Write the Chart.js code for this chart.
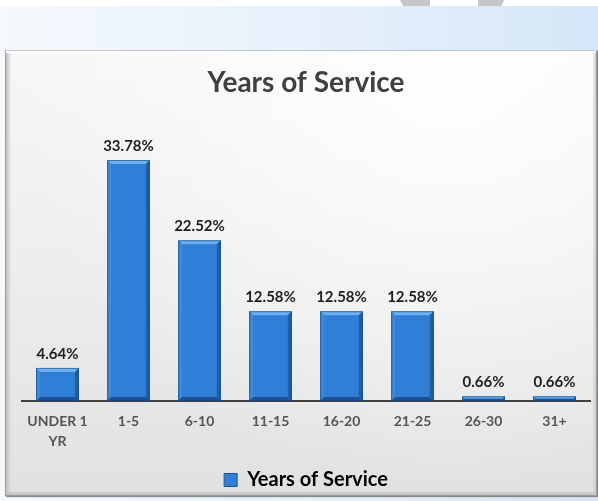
<!DOCTYPE html>
<html>
<head>
<meta charset="utf-8">
<script src="https://cdn.jsdelivr.net/npm/chart.js@4"></script>
<style>
  html, body { margin: 0; padding: 0; }
  body { width: 598px; height: 501px; position: relative; overflow: hidden; background: #ffffff; }
  .band { position: absolute; left: 0; top: 6px; width: 598px; height: 495px;
          background: linear-gradient(to right, #f5f9fe 0%, #e6f0fb 55%, #d5e6f8 100%); }
  .mark { position: absolute; top: 0; height: 6px; background: #c6c6c6; }
  .frame { position: absolute; left: 5px; top: 50px; width: 590px; height: 444px;
           border: 1px solid #9a9a9a; border-top-color: #c8c8c8;
           box-shadow: inset 0 2px 0 #ffffff, inset 4px 0 3px -1px #c4c4c4, inset -3px 0 3px -1px #cfcfcf,
                       inset 0 -3px 3px -1px #b8b8b8, 1px 1px 1px #8a8a8a;
           background:
             radial-gradient(ellipse at 75% 0%, rgba(255,255,255,0.95) 0%, rgba(255,255,255,0) 70%),
             linear-gradient(to bottom, #f7f7f7 0%, #ececec 55%, #e1e1e1 100%); }
  canvas { position: absolute; left: 0; top: 0; }
</style>
</head>
<body>
<div class="band"></div>
<div class="mark" style="left:400px;width:30px;clip-path:polygon(0 0,100% 0,100% 100%,10% 100%);"></div>
<div class="mark" style="left:478px;width:26px;clip-path:polygon(0 0,100% 0,90% 100%,0 100%);"></div>
<div class="frame"></div>
<canvas id="c" width="598" height="501"></canvas>
<script>
// Share of staff by length of service (percent)
const categories = [['UNDER 1', 'YR'], '1-5', '6-10', '11-15', '16-20', '21-25', '26-30', '31+'];
const seriesName = 'Years of Service';
const shares = [4.64, 33.78, 22.52, 12.58, 12.58, 12.58, 0.66, 0.66];

const FONT = "Lato, 'Open Sans', sans-serif";
const FACE = '#2f7fd6';

// Bevelled edges on each bar to give the raised look
const bevel = {
  id: 'bevel',
  afterDatasetsDraw(chart) {
    const ctx = chart.ctx;
    chart.getDatasetMeta(0).data.forEach(el => {
      const p = el.getProps(['x', 'y', 'base', 'width'], true);
      const l = p.x - p.width / 2, r = p.x + p.width / 2, t = p.y, b = p.base;
      const h = b - t;
      const e = Math.min(4, h / 2);
      const poly = (pts, c) => {
        ctx.beginPath();
        ctx.moveTo(pts[0][0], pts[0][1]);
        for (let i = 1; i < pts.length; i++) ctx.lineTo(pts[i][0], pts[i][1]);
        ctx.closePath();
        ctx.fillStyle = c;
        ctx.fill();
      };
      ctx.save();
      poly([[l, t], [r, t], [r - e, t + e], [l + e, t + e]], '#6cb0f2');
      poly([[l, t], [l + e, t + e], [l + e, b - e], [l, b]], '#3d8ad9');
      poly([[r, t], [r, b], [r - e, b - e], [r - e, t + e]], '#1f5ea8');
      poly([[l, b], [l + e, b - e], [r - e, b - e], [r, b]], '#1d5194');
      ctx.strokeStyle = 'rgba(20,60,110,0.55)';
      ctx.lineWidth = 1;
      ctx.strokeRect(l + 0.5, t + 0.5, p.width - 1, h - 1);
      ctx.restore();
    });
  }
};

// Percentage printed above each bar
const valueLabels = {
  id: 'valueLabels',
  afterDatasetsDraw(chart) {
    const ctx = chart.ctx;
    const data = chart.data.datasets[0].data;
    ctx.save();
    ctx.font = "bold 15px " + FONT;
    ctx.fillStyle = '#1e1e1e';
    ctx.textAlign = 'center';
    ctx.textBaseline = 'alphabetic';
    chart.getDatasetMeta(0).data.forEach((el, i) => {
      ctx.fillText(data[i].toFixed(2) + '%', el.x, el.y - 9);
    });
    ctx.restore();
  }
};

new Chart(document.getElementById('c'), {
  type: 'bar',
  data: {
    labels: categories,
    datasets: [{
      label: seriesName,
      data: shares,
      backgroundColor: FACE,
      borderWidth: 0,
      barPercentage: 0.6,
      categoryPercentage: 1.0
    }]
  },
  options: {
    responsive: false,
    animation: false,
    events: [],
    layout: { padding: { left: 22, right: 8, top: 57, bottom: 1 } },
    scales: {
      x: {
        grid: { display: false, drawTicks: false },
        border: { display: true, color: '#404040', width: 2 },
        ticks: { color: '#555555', font: { family: FONT, size: 14, weight: 'bold', lineHeight: 1.4 }, padding: 11 },
        afterFit(scale) { scale.height = 63; }
      },
      y: { display: false, min: 0, max: 40 }
    },
    plugins: {
      title: {
        display: true,
        text: seriesName,
        color: '#404040',
        font: { family: FONT, size: 28, weight: 'bold', lineHeight: 1.2 },
        padding: { top: 9, bottom: 16 }
      },
      legend: {
        position: 'bottom',
        labels: {
          color: '#404040',
          font: { family: FONT, size: 20, weight: 'bold' },
          boxWidth: 13, boxHeight: 13,
          padding: 6,
          generateLabels: (chart) => [{
            text: seriesName, fillStyle: FACE, strokeStyle: '#1d5194', lineWidth: 1, datasetIndex: 0
          }]
        }
      },
      tooltip: { enabled: false }
    }
  },
  plugins: [bevel, valueLabels]
});
</script>
</body>
</html>
